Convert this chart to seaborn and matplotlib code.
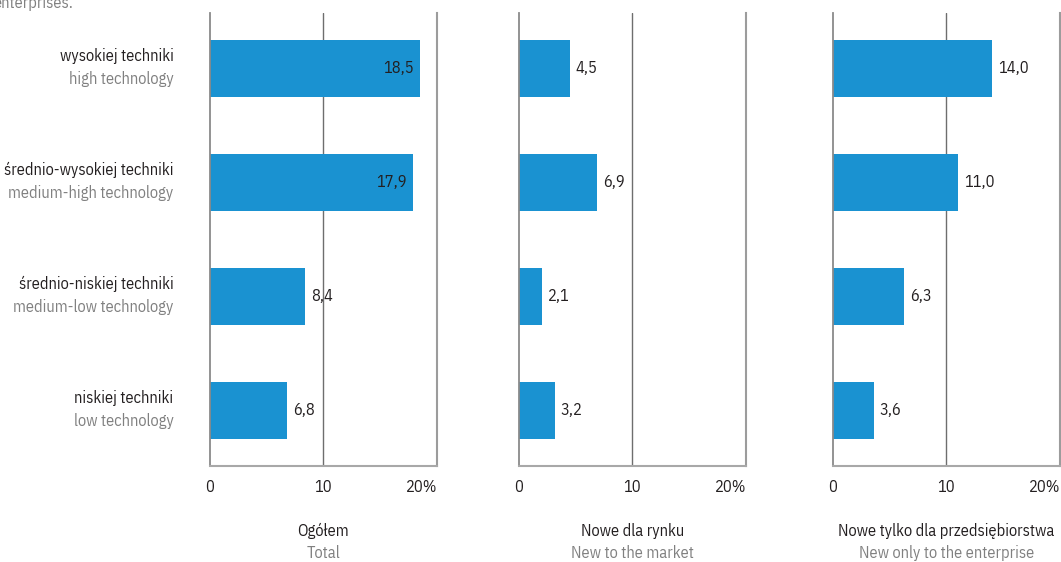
import pandas as pd
import numpy as np
import matplotlib
matplotlib.use("Agg")
import matplotlib.pyplot as plt
import seaborn as sns

# categories (Polish / English)
cats_pl = ["wysokiej techniki", "średnio-wysokiej techniki",
           "średnio-niskiej techniki", "niskiej techniki"]
cats_en = ["high technology", "medium-high technology",
           "medium-low technology", "low technology"]

# panel titles
titles_pl = ["Ogółem", "Nowe dla rynku", "Nowe tylko dla przedsiębiorstwa"]
titles_en = ["Total", "New to the market", "New only to the enterprise"]

# values, %
total = [18.5, 17.9, 8.4, 6.8]
new_market = [4.5, 6.9, 2.1, 3.2]
new_enterprise = [14.0, 11.0, 6.3, 3.6]

tick_vals = [0, 10, 20]
tick_labels = ["0", "10", "20%"]

BAR = "#1a92d1"
DARK = "#231f20"
GREY = "#808080"

sns.set_style("white")
plt.rcParams["font.family"] = ["IBM Plex Sans Condensed", "Open Sans", "DejaVu Sans"]
plt.rcParams["font.stretch"] = "condensed"
FS = 11.8

fig = plt.figure(figsize=(10.61, 5.62), dpi=100)
lefts = [209.5 / 1061, 518.5 / 1061, 832.7 / 1061]
width = 227.5 / 1061
bottom = 1 - 466 / 562
height = (466 - 12.5) / 562

series = [total, new_market, new_enterprise]

for i, vals in enumerate(series):
    ax = fig.add_axes([lefts[i], bottom, width, height])
    df = pd.DataFrame({"cat": cats_pl, "val": vals})
    sns.barplot(data=df, x="val", y="cat", orient="h", color=BAR,
                width=0.5, saturation=1, linewidth=0, ax=ax)
    ax.set_xlim(0, 20)
    ax.set_ylim(3.49, -0.49)
    ax.set_xlabel("")
    ax.set_ylabel("")
    ax.set_yticks([])
    ax.set_xticks(tick_vals)
    ax.set_xticklabels(tick_labels)
    ax.tick_params(axis="x", length=0, pad=9.5, labelsize=FS, labelcolor=DARK)
    ax.get_xticklabels()[-1].set_ha("right")

    ax.spines["top"].set_visible(False)
    ax.spines["left"].set_color("#8a8a8a")
    ax.spines["left"].set_linewidth(1.3)
    ax.spines["right"].set_color("#9c9c9c")
    ax.spines["right"].set_linewidth(1.5)
    ax.spines["bottom"].set_color("#a8a8a8")
    ax.spines["bottom"].set_linewidth(1.5)
    ax.axvline(10, color="#6e6e6e", lw=1.0, zorder=0)

    # value labels
    for j, v in enumerate(vals):
        txt = f"{v:.1f}".replace(".", ",")
        if v > 15:
            ax.annotate(txt, (v, j), xytext=(-6, 0), textcoords="offset pixels",
                        ha="right", va="center", fontsize=FS, color=DARK)
        else:
            ax.annotate(txt, (v, j), xytext=(6, 0), textcoords="offset pixels",
                        ha="left", va="center", fontsize=FS, color=DARK)

    # panel titles below
    ax.annotate(titles_pl[i], (0.5, 0), xycoords="axes fraction",
                xytext=(0, -65), textcoords="offset pixels",
                ha="center", va="center", fontsize=FS, color=DARK)
    ax.annotate(titles_en[i], (0.5, 0), xycoords="axes fraction",
                xytext=(0, -87), textcoords="offset pixels",
                ha="center", va="center", fontsize=FS, color=GREY)

    if i == 0:
        for j in range(len(cats_pl)):
            ax.annotate(cats_pl[j], (0, j), xycoords=("axes fraction", "data"),
                        xytext=(-36, 12), textcoords="offset pixels",
                        ha="right", va="center", fontsize=FS, color=DARK)
            ax.annotate(cats_en[j], (0, j), xycoords=("axes fraction", "data"),
                        xytext=(-36, -11), textcoords="offset pixels",
                        ha="right", va="center", fontsize=FS, color=GREY)

# cut-off note from the previous caption
fig.text(-7 / 1061, 1 - 8 / 562, "enterprises.", ha="left", va="baseline",
         fontsize=FS, color=GREY)

fig.savefig("out.png", dpi=100)
